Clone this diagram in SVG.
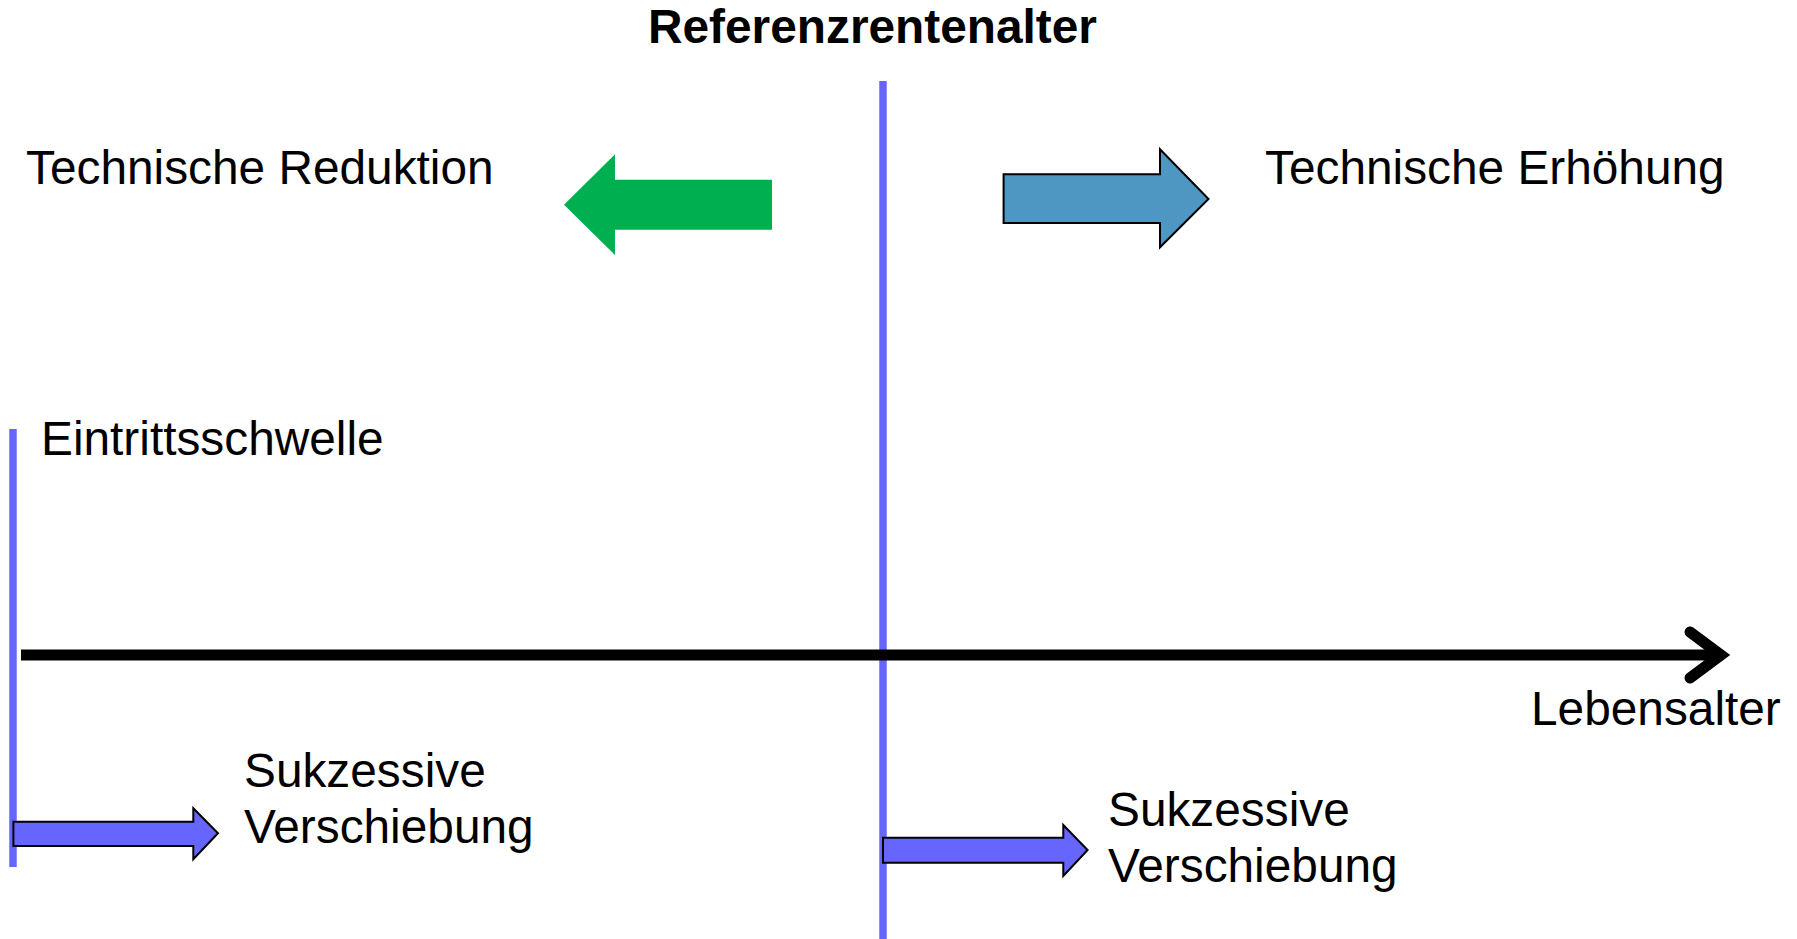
<svg xmlns="http://www.w3.org/2000/svg" width="1797" height="939" viewBox="0 0 1797 939">
<style>
text{font-family:"Liberation Sans",Arial,sans-serif;font-size:47.8px;fill:#000}
.b{font-weight:bold}
.vline{stroke:#6666FF;stroke-width:7.5;fill:none}
.shift{fill:#6666FF;stroke:#000;stroke-width:2}
</style>
<rect width="1797" height="939" fill="#fff"/>
<g id="connectors">
<line class="vline" x1="883" y1="81" x2="883" y2="939"/>
<line class="vline" x1="13" y1="429" x2="13" y2="867"/>
<g id="axis">
<line x1="21" y1="655" x2="1716" y2="655" stroke="#000" stroke-width="11"/>
<polyline points="1690,632 1721,655 1690,678" fill="none" stroke="#000" stroke-width="11" stroke-linecap="round" stroke-linejoin="miter"/>
</g>
</g>
<g id="title"><text class="b" x="648" y="43">Referenzrentenalter</text></g>
<g id="reduktion">
<polygon points="564,204.7 615,154.3 615,179.7 772,179.7 772,229.7 615,229.7 615,255" fill="#00B050"/>
<text x="26" y="184">Technische Reduktion</text>
</g>
<g id="erhoehung">
<polygon points="1003.6,174.3 1160,174.3 1160,149.3 1208.5,199 1160,247.3 1160,223 1003.6,223" fill="#4F97C3" stroke="#000" stroke-width="2"/>
<text x="1265" y="184">Technische Erhöhung</text>
</g>
<g id="eintritt"><text x="41" y="455">Eintrittsschwelle</text></g>
<g id="lebensalter"><text x="1531" y="725">Lebensalter</text></g>
<g id="shift-left">
<polygon class="shift" points="13.4,821.7 193.3,821.7 193.3,808.3 218,833.3 193.3,859.3 193.3,846 13.4,846"/>
<text x="244" y="787">Sukzessive</text>
<text x="244" y="843">Verschiebung</text>
</g>
<g id="shift-right">
<polygon class="shift" points="883,837.7 1063.3,837.7 1063.3,825 1087.6,850 1063.3,876 1063.3,862.7 883,862.7"/>
<text x="1108" y="825.7">Sukzessive</text>
<text x="1108" y="881.7">Verschiebung</text>
</g>
</svg>
